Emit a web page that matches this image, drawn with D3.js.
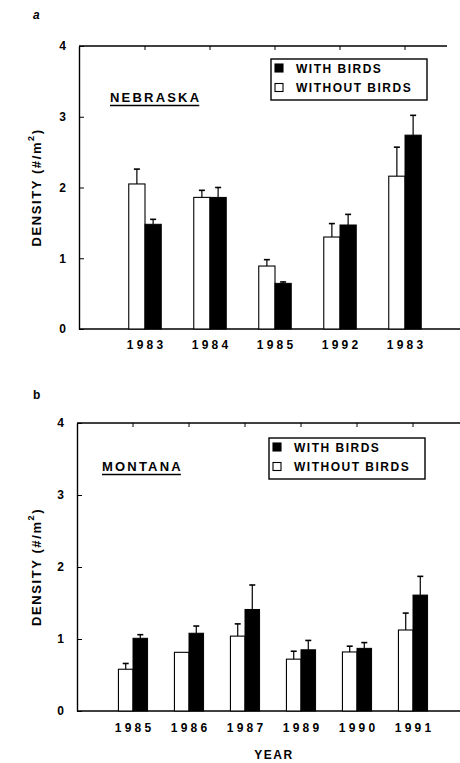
<!DOCTYPE html>
<html>
<head>
<meta charset="utf-8">
<script src="https://cdn.jsdelivr.net/npm/d3@7"></script>
<style>
  body { margin: 0; background: #fff; }
  svg { display: block; font-family: 'Liberation Sans', Arial, sans-serif; font-weight: bold; }
</style>
</head>
<body>
<svg id="chart" width="460" height="763"></svg>
<script>
// panel a - Nebraska
const nebTicks = ['1983', '1984', '1985', '1992', '1983'];
const nebWithout = [2.05, 1.86, 0.89, 1.30, 2.16];
const nebWithoutErr = [0.21, 0.10, 0.09, 0.19, 0.41];
const nebWith = [1.48, 1.86, 0.645, 1.47, 2.74];
const nebWithErr = [0.07, 0.14, 0.02, 0.15, 0.28];

// panel b - Montana
const monTicks = ['1985', '1986', '1987', '1989', '1990', '1991'];
const monWithout = [0.58, 0.815, 1.04, 0.72, 0.82, 1.125];
const monWithoutErr = [0.08, 0, 0.17, 0.11, 0.08, 0.235];
const monWith = [1.01, 1.08, 1.41, 0.85, 0.87, 1.61];
const monWithErr = [0.05, 0.10, 0.34, 0.13, 0.08, 0.26];

const yTicks = [0, 1, 2, 3, 4];

const svg = d3.select('#chart');
const FONT = "'Liberation Sans', Arial, sans-serif";

function drawPanel(opt) {
  const g = svg.append('g');
  const idx = d3.range(opt.ticks.length);

  const x = d3.scaleBand().domain(idx).range(opt.xRange);
  const y = d3.scaleLinear().domain([0, 4]).range([opt.bottom, opt.top]);
  const w = x.bandwidth() * opt.barFrac;
  const cx = (i) => x(i) + x.bandwidth() / 2;

  // panel letter
  g.append('text')
    .attr('x', 33).attr('y', opt.letterY)
    .style('font-size', '12px')
    .style('font-style', opt.letter === 'a' ? 'italic' : 'normal')
    .text(opt.letter);

  // frame lines: top and bottom
  g.append('line')
    .attr('x1', opt.left).attr('x2', opt.topEnd)
    .attr('y1', opt.top).attr('y2', opt.top)
    .attr('stroke', '#000').attr('stroke-width', 1.4);
  g.append('line')
    .attr('x1', opt.left).attr('x2', 460)
    .attr('y1', opt.bottom).attr('y2', opt.bottom)
    .attr('stroke', '#000').attr('stroke-width', 1.4);

  // top ticks at categories
  const topAx = g.append('g')
    .attr('transform', 'translate(0,' + opt.top + ')')
    .call(d3.axisTop(x).tickSize(-4).tickFormat(''));
  topAx.select('.domain').remove();

  // bars
  const rows = idx.map((i) => ({
    i: i,
    wo: opt.without[i], woErr: opt.withoutErr[i],
    wi: opt.with[i], wiErr: opt.withErr[i]
  }));

  g.selectAll('rect.wo')
    .data(rows).enter().append('rect')
    .attr('class', 'wo')
    .attr('x', (d) => cx(d.i) - w)
    .attr('y', (d) => y(d.wo))
    .attr('width', w)
    .attr('height', (d) => y(0) - y(d.wo))
    .attr('fill', '#fff').attr('stroke', '#000').attr('stroke-width', 1.1);

  g.selectAll('rect.wi')
    .data(rows).enter().append('rect')
    .attr('class', 'wi')
    .attr('x', (d) => cx(d.i))
    .attr('y', (d) => y(d.wi))
    .attr('width', w)
    .attr('height', (d) => y(0) - y(d.wi))
    .attr('fill', '#000').attr('stroke', '#000').attr('stroke-width', 1);

  // error bars
  const errs = [];
  rows.forEach((d) => {
    if (d.woErr > 0) errs.push({ x: cx(d.i) - w / 2, v: d.wo, e: d.woErr });
    if (d.wiErr > 0) errs.push({ x: cx(d.i) + w / 2, v: d.wi, e: d.wiErr });
  });
  const eg = g.selectAll('g.err').data(errs).enter().append('g').attr('class', 'err');
  eg.append('line')
    .attr('x1', (d) => d.x).attr('x2', (d) => d.x)
    .attr('y1', (d) => y(d.v)).attr('y2', (d) => y(d.v + d.e))
    .attr('stroke', '#000').attr('stroke-width', 1.2);
  eg.append('line')
    .attr('x1', (d) => d.x - 3).attr('x2', (d) => d.x + 3)
    .attr('y1', (d) => y(d.v + d.e)).attr('y2', (d) => y(d.v + d.e))
    .attr('stroke', '#000').attr('stroke-width', 1.6);

  // y axis
  const yAx = g.append('g')
    .attr('transform', 'translate(' + opt.left + ',0)')
    .call(d3.axisLeft(y).tickValues(yTicks).tickFormat(d3.format('d'))
      .tickSizeInner(-5).tickSizeOuter(0).tickPadding(13));
  yAx.select('.domain').attr('stroke-width', 1.4);
  yAx.selectAll('text')
    .style('font-size', '12px').style('font-weight', 'bold')
    .style('font-family', FONT);

  // x axis labels
  const xAx = g.append('g')
    .attr('transform', 'translate(0,' + opt.bottom + ')')
    .call(d3.axisBottom(x).tickSize(0).tickPadding(opt.xPad)
      .tickFormat((i) => opt.ticks[i]));
  xAx.select('.domain').remove();
  xAx.selectAll('text')
    .style('font-size', '12px').style('font-weight', 'bold')
    .style('letter-spacing', '3.3px')
    .style('font-family', FONT)
    .attr('dx', '1.6px');

  // y axis title
  const yt = g.append('text')
    .attr('transform', 'translate(41,' + (opt.top + opt.bottom) / 2 + ') rotate(-90)')
    .attr('text-anchor', 'middle')
    .style('font-size', '13px')
    .style('letter-spacing', '1.6px');
  yt.append('tspan').text('DENSITY (#/m');
  yt.append('tspan').attr('dy', -7).style('font-size', '9px').text('2');
  yt.append('tspan').attr('dy', 7).text(')');

  // state label underlined
  const st = g.append('text')
    .attr('x', opt.stateX).attr('y', opt.stateY)
    .style('font-size', '13px')
    .style('letter-spacing', '2.2px')
    .text(opt.state);
  const bb = st.node().getBBox();
  g.append('line')
    .attr('x1', opt.stateX).attr('x2', opt.stateX + bb.width - 2)
    .attr('y1', opt.stateY + 3.5).attr('y2', opt.stateY + 3.5)
    .attr('stroke', '#000').attr('stroke-width', 1.5);

  // legend
  const lg = g.append('g').attr('transform', 'translate(' + opt.legX + ',' + opt.legY + ')');
  lg.append('rect')
    .attr('x', 0).attr('y', 0).attr('width', 156).attr('height', 41)
    .attr('fill', '#fff').attr('stroke', '#000').attr('stroke-width', 1.4);
  const items = [
    { label: 'WITH BIRDS', fill: '#000' },
    { label: 'WITHOUT BIRDS', fill: '#fff' }
  ];
  const li = lg.selectAll('g.item').data(items).enter().append('g')
    .attr('transform', (d, i) => 'translate(0,' + (9 + i * 19.5) + ')');
  li.append('rect')
    .attr('x', 4).attr('y', -4).attr('width', 8).attr('height', 8)
    .attr('fill', (d) => d.fill).attr('stroke', '#000').attr('stroke-width', 1.1);
  li.append('text')
    .attr('x', 25).attr('y', 4.5)
    .style('font-size', '12px')
    .style('letter-spacing', '1.5px')
    .text((d) => d.label);
}

drawPanel({
  letter: 'a', letterY: 19,
  ticks: nebTicks, without: nebWithout, withoutErr: nebWithoutErr,
  with: nebWith, withErr: nebWithErr,
  left: 79, top: 46, bottom: 329, topEnd: 447,
  xRange: [112.5, 437.5], barFrac: 0.25, xPad: 11,
  state: 'NEBRASKA', stateX: 110, stateY: 102,
  legX: 271, legY: 59
});

drawPanel({
  letter: 'b', letterY: 399,
  ticks: monTicks, without: monWithout, withoutErr: monWithoutErr,
  with: monWith, withErr: monWithErr,
  left: 77, top: 423, bottom: 711, topEnd: 460,
  xRange: [105, 441], barFrac: 0.26, xPad: 12,
  state: 'MONTANA', stateX: 102, stateY: 471,
  legX: 269, legY: 438
});

svg.append('text')
  .attr('x', 274).attr('y', 759)
  .attr('text-anchor', 'middle')
  .style('font-size', '12px')
  .style('letter-spacing', '1.5px')
  .text('YEAR');
</script>
</body>
</html>
